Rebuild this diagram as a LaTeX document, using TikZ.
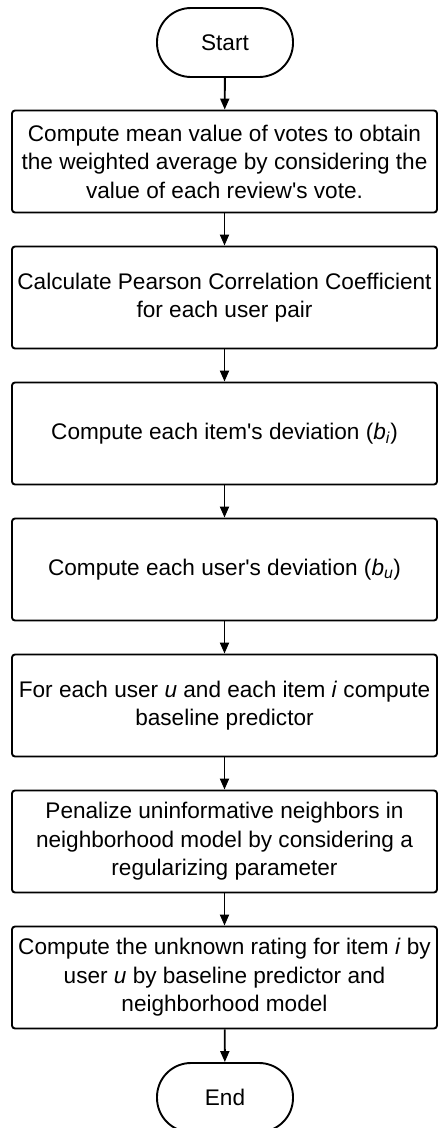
\documentclass[tikz,border=0pt]{standalone}
\usepackage{fontspec}
\setmainfont{Liberation Sans}
\usetikzlibrary{arrows.meta}
\newcommand{\ap}{\textquotesingle}
\newcommand{\iv}[1]{\textit{#1}}
\tikzset{
  stepbox/.style={draw=black, line width=1.9pt, rounded corners=3pt,
    minimum width=425pt, minimum height=102pt, inner sep=1pt,
    align=center, font=\fontsize{22.6}{28.5}\selectfont, text=black},
  term/.style={draw=black, line width=1.9pt, rounded corners=34pt,
    minimum width=136pt, minimum height=69pt, inner sep=0pt,
    font=\fontsize{22.6}{28.5}\selectfont, text=black},
  flow/.style={line width=1.9pt, -{Triangle[length=11pt,width=9pt]}}
}
\begin{document}
\begin{tikzpicture}[x=1pt,y=-1pt]
\clip (0,0) rectangle (438,1128);
\node[term] (start) at (225,42.5) {Start};
\node[stepbox] (s1) at (224.5,161.5) {Compute mean value of votes to obtain\\the weighted average by considering the\\value of each review\ap s vote.};
\node[stepbox] (s2) at (224.5,297.5) {Calculate Pearson Correlation Coefficient\\for each user pair};
\node[stepbox] (s3) at (224.5,433.5) {Compute each item\ap s deviation (\iv{b}\textsubscript{\iv{i}})};
\node[stepbox] (s4) at (224.5,569.5) {Compute each user\ap s deviation (\iv{b}\textsubscript{\iv{u}})};
\node[stepbox] (s5) at (224.5,705.5) {For each user \iv{u} and each item \iv{i} compute\\baseline predictor};
\node[stepbox] (s6) at (224.5,841.5) {Penalize uninformative neighbors in\\neighborhood model by considering a\\regularizing parameter};
\node[stepbox] (s7) at (224.5,977.5) {Compute the unknown rating for item \iv{i} by\\user \iv{u} by baseline predictor and\\neighborhood model};
\node[term] (end) at (225,1097.5) {End};
\draw[flow] (start) -- (s1);
\draw[flow] (s1) -- (s2);
\draw[flow] (s2) -- (s3);
\draw[flow] (s3) -- (s4);
\draw[flow] (s4) -- (s5);
\draw[flow] (s5) -- (s6);
\draw[flow] (s6) -- (s7);
\draw[flow] (s7) -- (end);
\end{tikzpicture}
\end{document}
